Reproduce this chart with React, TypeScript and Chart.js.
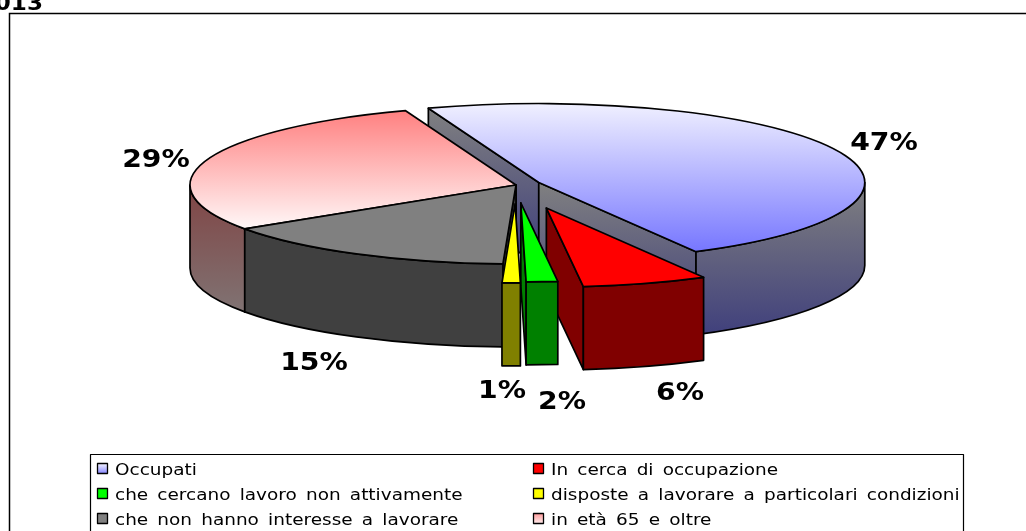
import React, { useEffect, useRef } from "react";
import { Chart, registerables } from "chart.js";

Chart.register(...registerables);

const categories = [
  "Occupati",
  "In cerca di occupazione",
  "che cercano lavoro non attivamente",
  "disposte a lavorare a particolari condizioni",
  "che non hanno interesse a lavorare",
  "in età 65 e oltre",
];
const shares = [47.49, 6.2, 1.55, 0.9, 15.0, 28.86];
const titleText = "2013";

const baseColors = ["#8080ff", "#ff0000", "#00ff00", "#ffff00", "#808080", "#ffb0b0"];
const topStops: (string[] | null)[] = [["#f0f0ff", "#7878ff"], null, null, null, null, ["#ff8080", "#fff8f8"]];
const wallStops: string[][] = [
  ["#808080", "#3c3c7c"],
  ["#800000", "#800000"],
  ["#008000", "#008000"],
  ["#808000", "#808000"],
  ["#404040", "#404040"],
  ["#804444", "#808080"],
];
const legendStops: string[][] = [
  ["#f0f0ff", "#8080ff"],
  ["#ff0000", "#ff0000"],
  ["#00ff00", "#00ff00"],
  ["#ffff00", "#ffff00"],
  ["#808080", "#808080"],
  ["#ffa0a0", "#fff0f0"],
];

// Drawing style of the tilted pie
const explode = [25, 100, 74, 78, 0, 0];
const paintOrder = [0, 5, 4, 1, 2, 3];
const TILT = 79 / 326;
const DEPTH = 83;
const labelAnchors = [
  [884, 143],
  [680, 393],
  [562, 402],
  [502, 391],
  [314, 363],
  [156, 160],
];
const legendCells = [
  [97, 469],
  [533, 469],
  [97, 494],
  [533, 494],
  [97, 519],
  [533, 519],
];

function stretched(
  ctx: CanvasRenderingContext2D,
  text: string,
  x: number,
  y: number,
  font: string,
  sx: number,
  align: CanvasTextAlign,
  baseline: CanvasTextBaseline,
  wordSpacing = "0px"
) {
  ctx.save();
  ctx.translate(x, y);
  ctx.scale(sx, 1);
  ctx.font = font;
  (ctx as any).wordSpacing = wordSpacing;
  ctx.fillStyle = "#000";
  ctx.textAlign = align;
  ctx.textBaseline = baseline;
  ctx.fillText(text, 0, 0);
  ctx.restore();
}

function vGrad(ctx: CanvasRenderingContext2D, y0: number, y1: number, stops: string[]) {
  const g = ctx.createLinearGradient(0, y0, 0, y1);
  g.addColorStop(0, stops[0]);
  g.addColorStop(1, stops[1]);
  return g;
}

const pie3d = {
  id: "pie3d",
  beforeDatasetsDraw(chart: any) {
    const ctx: CanvasRenderingContext2D = chart.ctx;
    const arcs = chart.getDatasetMeta(0).data;
    ctx.save();
    ctx.fillStyle = "#fff";
    ctx.fillRect(0, 0, chart.width, chart.height);
    ctx.strokeStyle = "#000";
    ctx.lineWidth = 1.5;
    ctx.strokeRect(9.5, 13.5, 1200, 700);
    ctx.lineJoin = "round";
    ctx.lineWidth = 1.7;

    paintOrder.forEach((i) => {
      const arc = arcs[i];
      const R = arc.outerRadius;
      const ry = R * TILT;
      const a = arc.startAngle;
      const b = arc.endAngle;
      const mid = (a + b) / 2;
      const ax = arc.x + explode[i] * Math.cos(mid);
      const ay = arc.y + explode[i] * Math.sin(mid) * TILT;
      const px = (t: number) => ax + R * Math.cos(t);
      const py = (t: number) => ay + ry * Math.sin(t);
      const stops = wallStops[i];

      const radial = (t: number) => {
        const top = Math.min(ay, py(t));
        const bot = Math.max(ay, py(t)) + DEPTH;
        ctx.beginPath();
        ctx.moveTo(ax, ay);
        ctx.lineTo(px(t), py(t));
        ctx.lineTo(px(t), py(t) + DEPTH);
        ctx.lineTo(ax, ay + DEPTH);
        ctx.closePath();
        ctx.fillStyle = vGrad(ctx, top, bot, stops);
        ctx.fill();
        ctx.stroke();
      };
      // A radial side faces the viewer when its outward normal points down the page.
      if (-Math.cos(a) > 0) radial(a);
      if (Math.cos(b) > 0) radial(b);

      for (let k = -1; k <= 1; k++) {
        const s = Math.max(a, 2 * Math.PI * k);
        const e = Math.min(b, 2 * Math.PI * k + Math.PI);
        if (e <= s) continue;
        ctx.beginPath();
        ctx.ellipse(ax, ay, R, ry, 0, s, e);
        ctx.lineTo(px(e), py(e) + DEPTH);
        ctx.ellipse(ax, ay + DEPTH, R, ry, 0, e, s, true);
        ctx.closePath();
        ctx.fillStyle = vGrad(ctx, ay, ay + ry + DEPTH, stops);
        ctx.fill();
        ctx.stroke();
      }

      ctx.beginPath();
      ctx.moveTo(ax, ay);
      ctx.ellipse(ax, ay, R, ry, 0, a, b);
      ctx.closePath();
      const ts = topStops[i];
      const yTop = i === 0 ? ay - ry : ay - ry * 0.94;
      const yBot = i === 0 ? ay + ry * 0.85 : ay + ry * 0.56;
      ctx.fillStyle = ts ? vGrad(ctx, yTop, yBot, ts) : baseColors[i];
      ctx.fill();
      ctx.stroke();
    });

    // Percent labels
    const total = shares.reduce((s, v) => s + v, 0);
    shares.forEach((v, i) => {
      stretched(
        ctx,
        `${Math.round((v / total) * 100)}%`,
        labelAnchors[i][0],
        labelAnchors[i][1],
        'bold 25px "DejaVu Sans"',
        1.13,
        "center",
        "middle"
      );
    });

    // Title, clipped by the top of the page as in the reference
    stretched(ctx, titleText, 43, 10, 'bold 21px "DejaVu Sans"', 1.1, "right", "alphabetic");

    // Legend
    ctx.strokeStyle = "#000";
    ctx.lineWidth = 1.2;
    ctx.fillStyle = "#fff";
    ctx.fillRect(90.5, 454.5, 873, 200);
    ctx.strokeRect(90.5, 454.5, 873, 200);
    categories.forEach((name, i) => {
      const [mx, my] = legendCells[i];
      ctx.beginPath();
      ctx.rect(mx + 0.5, my - 5.5, 10, 10);
      ctx.fillStyle = vGrad(ctx, my - 5, my + 5, legendStops[i]);
      ctx.fill();
      ctx.lineWidth = 1.3;
      ctx.stroke();
      stretched(ctx, name, mx + 18, my + 2, '15px "DejaVu Sans"', 1.23, "left", "middle", "2.7px");
    });
    ctx.restore();
    return false;
  },
};

export default function App() {
  const ref = useRef<HTMLCanvasElement>(null);
  useEffect(() => {
    document.body.style.margin = "0";
    const chart = new Chart(ref.current!, {
      type: "pie",
      data: {
        labels: categories,
        datasets: [{ data: shares, backgroundColor: baseColors, borderColor: "#000", borderWidth: 1 }],
      },
      options: {
        animation: false,
        responsive: false,
        rotation: -19.8,
        radius: 326,
        layout: { padding: { left: 6, right: 0, top: 0, bottom: 161 } },
        plugins: { legend: { display: false }, tooltip: { enabled: false } },
      } as any,
      plugins: [pie3d as any],
    });
    return () => chart.destroy();
  }, []);
  return <canvas ref={ref} width={1026} height={531} style={{ display: "block" }} />;
}
